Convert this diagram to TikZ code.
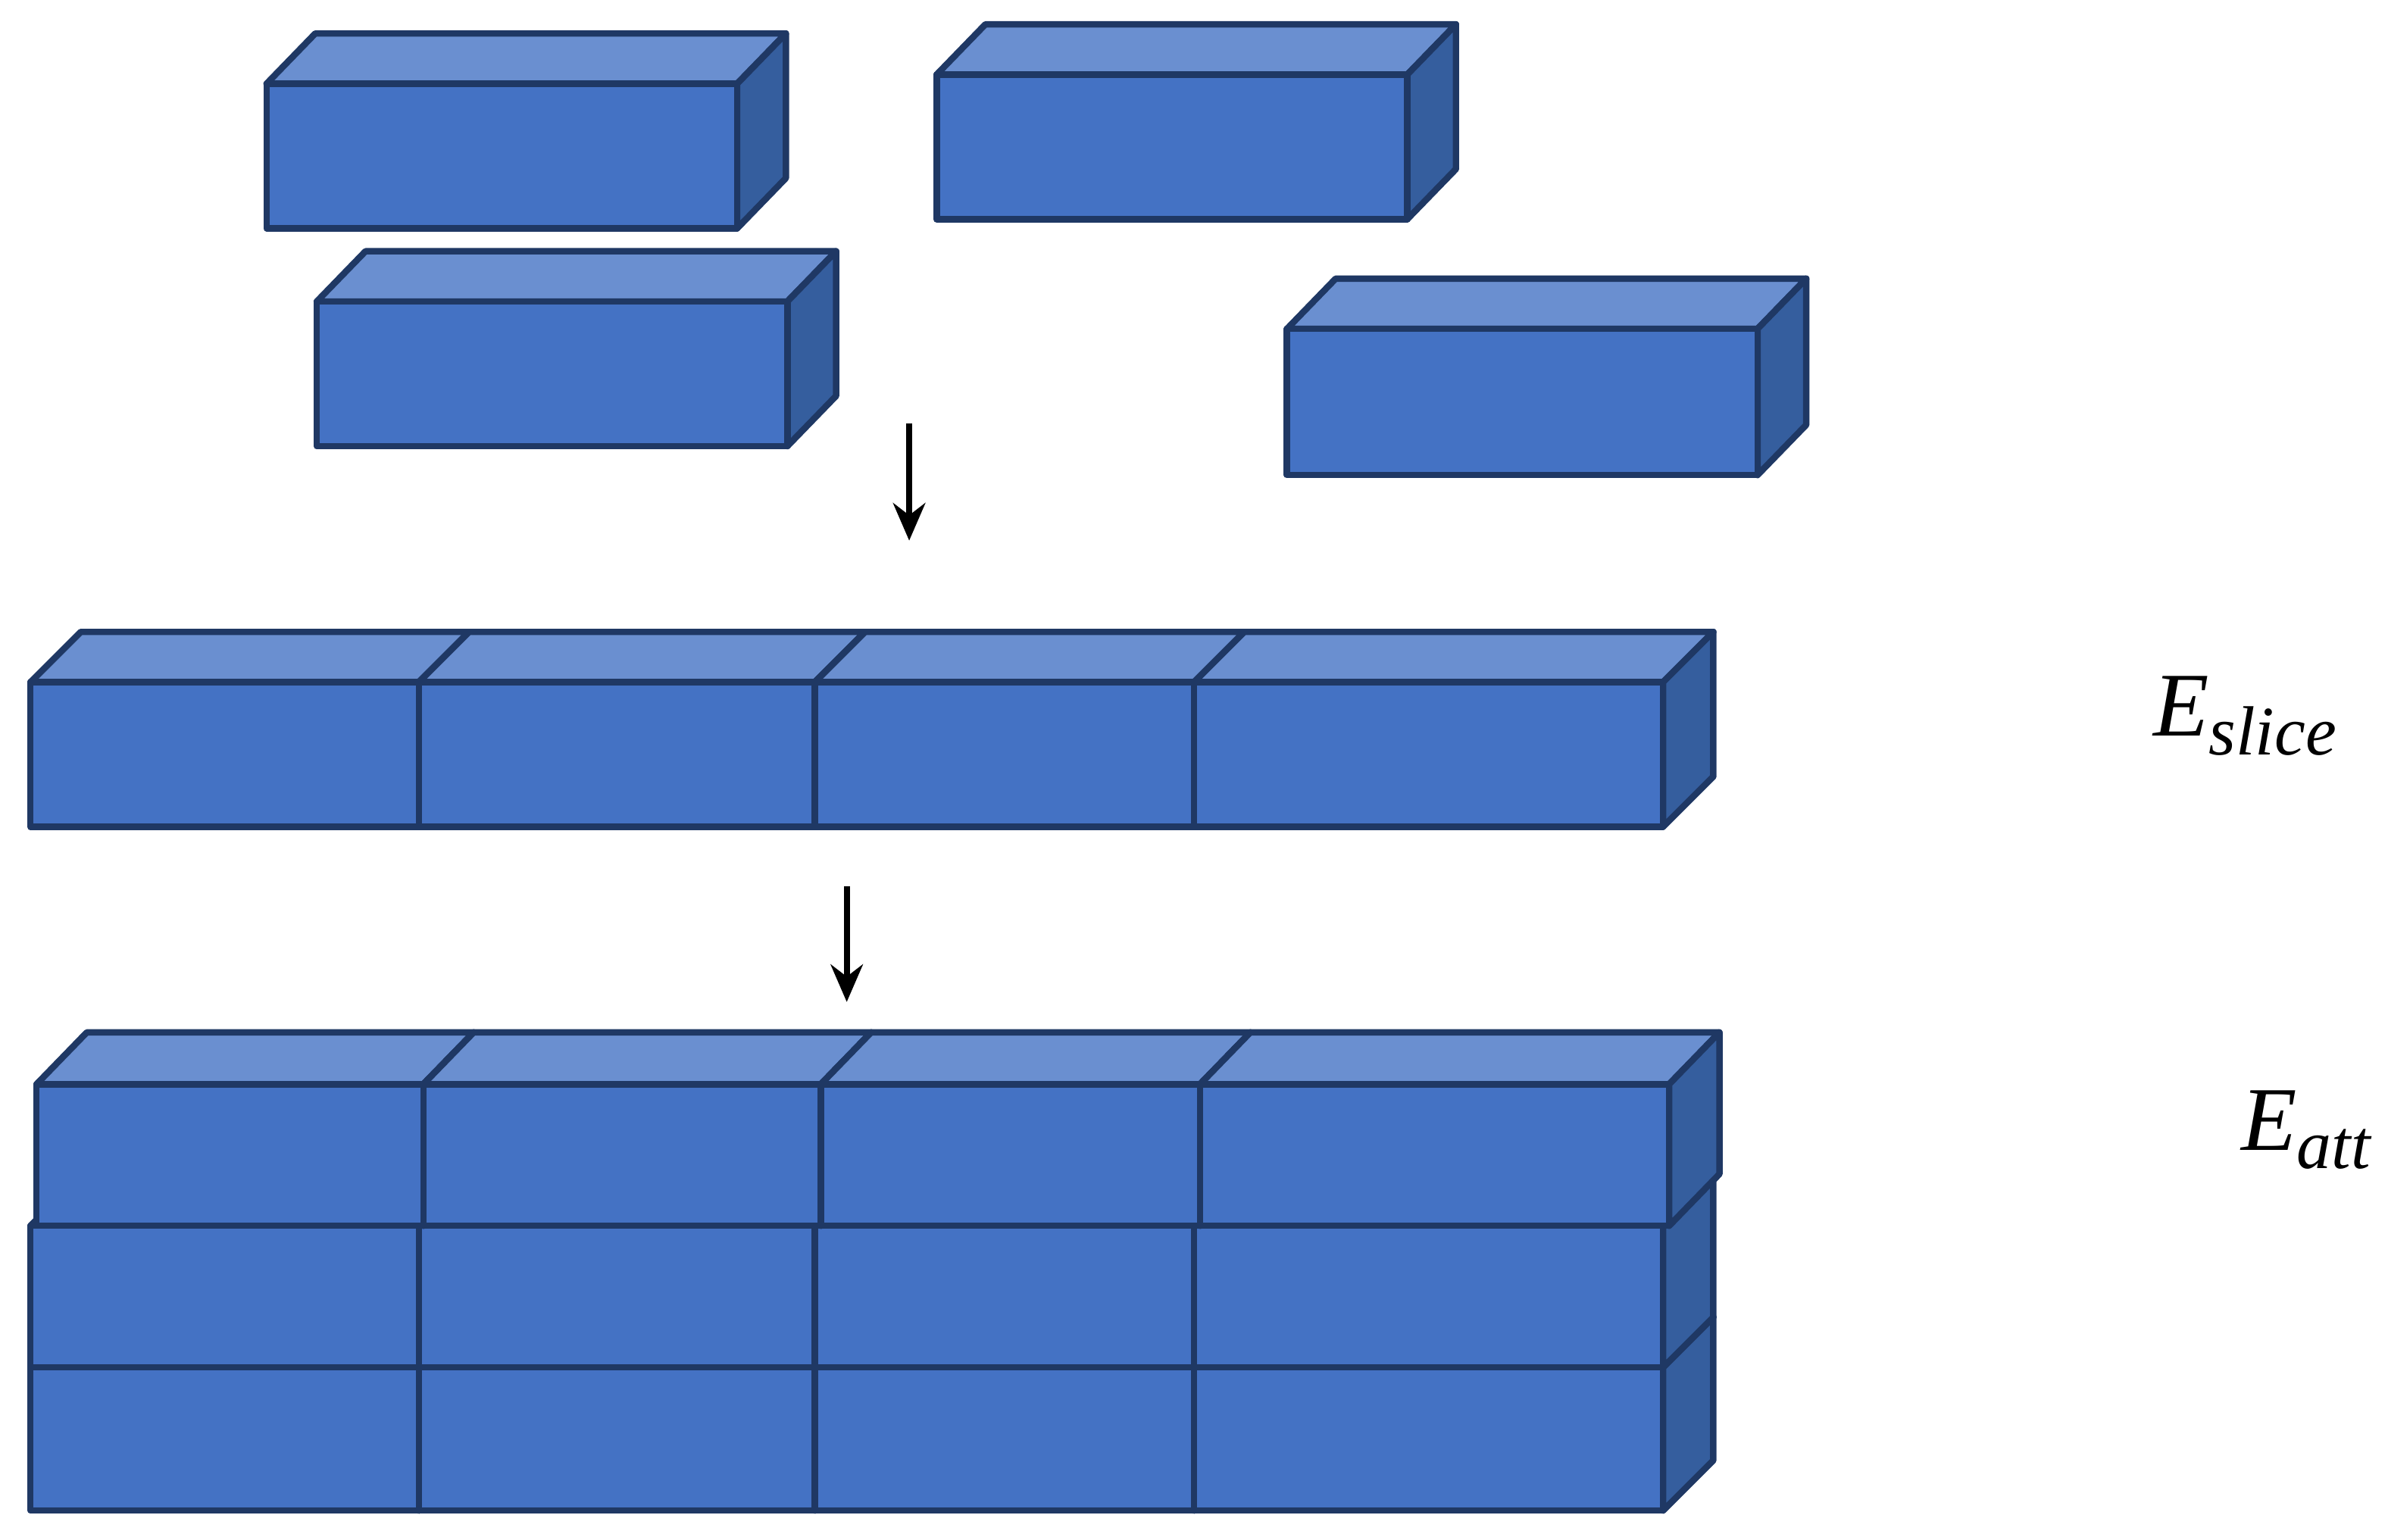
\documentclass[tikz,border=0pt]{standalone}
\usepackage{fontspec}
\setmainfont{Liberation Serif}
\usetikzlibrary{arrows.meta}
\definecolor{frontc}{HTML}{4472C4}
\definecolor{topc}{HTML}{6A8FD0}
\definecolor{sidec}{HTML}{355E9E}
\definecolor{edgec}{HTML}{1F3864}
\newcommand{\cub}[6]{%
  \filldraw[fill=topc,cub] (#1,#2)--({#1+#5},{#2-#6})--({#3+#5},{#2-#6})--(#3,#2)--cycle;
  \filldraw[fill=sidec,cub] (#3,#2)--({#3+#5},{#2-#6})--({#3+#5},{#4-#6})--(#3,#4)--cycle;
  \filldraw[fill=frontc,cub] (#1,#2) rectangle (#3,#4);}
\begin{document}
\begin{tikzpicture}[x=0.01cm,y=-0.01cm,
  cub/.style={draw=edgec,line width=1.2pt,line join=round},
  arr/.style={-{Stealth[length=7pt,width=6pt]},line width=1.1pt},
  lab/.style={font=\fontsize{17}{20}\selectfont\itshape,anchor=center,inner sep=0pt}]
\useasboundingbox (0,0) rectangle (1568,1011);
% top separate bricks
\cub{175}{55}{484}{150}{32}{33}
\cub{615}{49}{924}{144}{32}{33}
\cub{208}{198}{517}{293}{32}{33}
\cub{845}{216}{1154}{312}{32}{33}
\coordinate (a1s) at (597,278); \coordinate (a1e) at (597,355);
\draw[arr] (a1s) -- (a1e);
% middle row
\cub{20}{448}{275}{543}{33}{33}
\cub{275}{448}{535}{543}{33}{33}
\cub{535}{448}{784}{543}{33}{33}
\cub{784}{448}{1092}{543}{33}{33}
\coordinate (a2s) at (556,582); \coordinate (a2e) at (556,658);
\draw[arr] (a2s) -- (a2e);
% bottom stack: row 3
\cub{20}{898}{275}{992}{33}{33}
\cub{275}{898}{535}{992}{33}{33}
\cub{535}{898}{784}{992}{33}{33}
\cub{784}{898}{1092}{992}{33}{33}
% row 2
\cub{20}{805}{275}{898}{33}{33}
\cub{275}{805}{535}{898}{33}{33}
\cub{535}{805}{784}{898}{33}{33}
\cub{784}{805}{1092}{898}{33}{33}
% row 1
\cub{24}{712}{278}{805}{33}{34}
\cub{278}{712}{539}{805}{33}{34}
\cub{539}{712}{788}{805}{33}{34}
\cub{788}{712}{1096}{805}{33}{34}
\node[lab] (es) at (1474,470) {E\raisebox{-0.45ex}{\fontsize{13}{15}\selectfont slice}};
\node[lab] (ea) at (1514,742) {E\raisebox{-0.45ex}{\fontsize{13}{15}\selectfont att}};
\end{tikzpicture}
\end{document}
